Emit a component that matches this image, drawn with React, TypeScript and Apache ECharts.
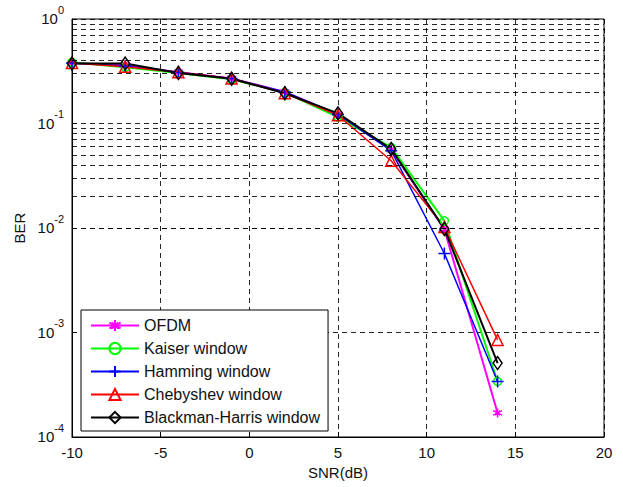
import React, { useEffect, useRef } from "react";
import * as echarts from "echarts";

const snr = [-10, -7, -4, -1, 2, 5, 8, 11, 14];
const ofdm = [0.38, 0.36, 0.31, 0.27, 0.2, 0.122, 0.056, 0.0097, 0.00017];
const kaiser = [0.385, 0.345, 0.305, 0.265, 0.198, 0.115, 0.059, 0.0117, 0.00034];
const hamming = [0.38, 0.355, 0.31, 0.27, 0.2, 0.122, 0.055, 0.0057, 0.00034];
const chebyshev = [0.38, 0.35, 0.31, 0.27, 0.195, 0.12, 0.044, 0.0102, 0.00085];
const blackman = [0.375, 0.375, 0.305, 0.268, 0.195, 0.125, 0.057, 0.0098, 0.00051];

const seriesNames = ["OFDM", "Kaiser window", "Hamming window", "Chebyshev window", "Blackman-Harris window"];
const xTicks = [-10, -5, 0, 5, 10, 15, 20];
const decades = [-4, -3, -2, -1];
const minorMultipliers = [2, 3, 4, 5, 6, 7, 8, 9];

const FONT = "Liberation Sans, Arial, sans-serif";

export default function App() {
  const ref = useRef<HTMLDivElement>(null);
  useEffect(() => {
    if (!ref.current) return;
    const chart = echarts.init(ref.current, undefined, { renderer: "svg" });
    const minorLines: any[] = [];
    decades.forEach((d) => minorMultipliers.forEach((m) => minorLines.push({ yAxis: m * Math.pow(10, d) })));
    const gridLine = { color: "#000", width: 1, type: [5, 4] as any, opacity: 0.85 };
    const mk = (name: string, data: number[], color: string, symbol: string, size: any, width: number, filled: boolean, extra: any = {}) => ({
      name,
      type: "line",
      data: snr.map((x, i) => [x, data[i]]),
      symbol,
      symbolSize: size,
      showSymbol: true,
      lineStyle: { color, width },
      itemStyle: { color: filled ? color : "rgba(0,0,0,0)", borderColor: color, borderWidth: 1.5 },
      emphasis: { disabled: true },
      ...extra,
    });
    chart.setOption({
      animation: false,
      backgroundColor: "#fff",
      grid: { left: 72, top: 19, right: 19, bottom: 50, show: true, borderColor: "#000", borderWidth: 1 },
      legend: {
        orient: "vertical",
        left: 81,
        top: 310,
        backgroundColor: "#fff",
        borderColor: "#000",
        borderWidth: 1,
        padding: [7, 8, 5, 9],
        itemWidth: 48,
        itemHeight: 14,
        itemGap: 6,
        textStyle: { fontFamily: FONT, fontSize: 16, color: "#111", lineHeight: 17 },
        data: seriesNames,
      },
      xAxis: {
        type: "value",
        min: -10,
        max: 20,
        interval: 5,
        name: "SNR(dB)",
        nameLocation: "middle",
        nameGap: 26,
        nameTextStyle: { fontFamily: FONT, fontSize: 15, color: "#111" },
        axisLine: { onZero: false, lineStyle: { color: "#000" } },
        axisTick: { inside: true, length: 5, lineStyle: { color: "#000" } },
        axisLabel: { fontFamily: FONT, fontSize: 15, color: "#111", margin: 8, formatter: (v: number) => (xTicks.includes(v) ? String(v) : "") },
        splitLine: { show: true, lineStyle: gridLine },
      },
      yAxis: {
        type: "log",
        logBase: 10,
        min: 1e-4,
        max: 1,
        name: "BER",
        nameLocation: "middle",
        nameGap: 45,
        nameTextStyle: { fontFamily: FONT, fontSize: 15, color: "#111" },
        axisLine: { onZero: false, lineStyle: { color: "#000" } },
        axisTick: { inside: true, length: 5, lineStyle: { color: "#000" } },
        axisLabel: {
          fontFamily: FONT,
          color: "#111",
          margin: 8,
          padding: [0, 0, 8, 0],
          formatter: (v: number) => "{b|10}{s|" + Math.round(Math.log10(v)) + "}",
          rich: {
            b: { fontFamily: FONT, fontSize: 15, color: "#111", lineHeight: 22, verticalAlign: "bottom" },
            s: { fontFamily: FONT, fontSize: 11, color: "#111", lineHeight: 12, verticalAlign: "top" },
          },
        },
        splitLine: { show: true, lineStyle: gridLine },
      },
      series: [
        mk(seriesNames[0], ofdm, "#ff00ff", "path://M0,-10L0,10M-8.7,-5L8.7,5M-8.7,5L8.7,-5M-3,-3L3,3L3,-3L-3,3Z", 9, 2, true, {
          markLine: {
            silent: true,
            symbol: "none",
            label: { show: false },
            lineStyle: gridLine,
            data: minorLines,
          },
        }),
        mk(seriesNames[1], kaiser, "#00ff00", "circle", 8, 2, false),
        mk(seriesNames[2], hamming, "#0000ff", "path://M0,-10L0,10M-10,0L10,0", 12, 1.5, false),
        mk(seriesNames[3], chebyshev, "#ff0000", "triangle", 11, 1.5, false),
        mk(seriesNames[4], blackman, "#000000", "diamond", [9, 13], 2, false),
      ],
    });
    return () => chart.dispose();
  }, []);
  return <div ref={ref} style={{ position: "fixed", left: 0, top: 0, width: 623, height: 487, background: "#fff" }} />;
}
